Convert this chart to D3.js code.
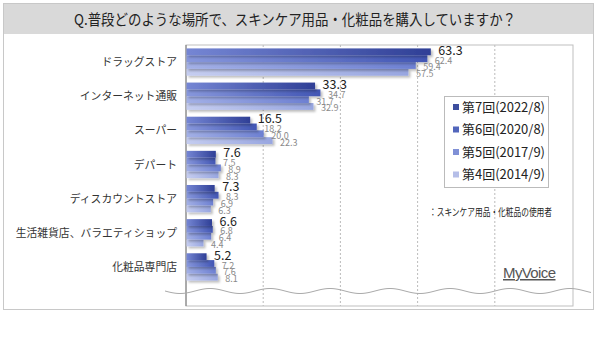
<!DOCTYPE html>
<html><head><meta charset="utf-8">
<script src="https://cdn.jsdelivr.net/npm/d3@7/dist/d3.min.js"></script>
<style>body{margin:0;background:#fff;font-family:"Noto Sans CJK JP","Noto Sans",sans-serif;}</style>
</head><body><svg id="c" width="600" height="350"></svg>
<script>
const categories = ["ドラッグストア","インターネット通販","スーパー","デパート","ディスカウントストア","生活雑貨店、バラエティショップ","化粧品専門店"];
const seriesNames = ["第7回(2022/8)","第6回(2020/8)","第5回(2017/9)","第4回(2014/9)"];
const s7 = [63.3,33.3,16.5,7.6,7.3,6.6,5.2];
const s6 = [62.4,34.7,18.2,7.5,8.3,6.8,7.2];
const s5 = [59.4,31.7,20.0,8.9,6.9,6.4,7.6];
const s4 = [57.5,32.9,22.3,8.3,6.3,4.4,8.1];
const xTicks = [0,20,40,60,80,100];
(function(){
const series = [s7,s6,s5,s4];
const colors = [["#7586d4","#2f3f96"],["#8797dc","#4256b4"],["#a3b0e6","#6d80d2"],["#c5cdf0","#98a6e0"]];
const legendColors = ["#3d4e9e","#5266bc","#8090d6","#b5bee8"];

const svg = d3.select("#c");
const defs = svg.append("defs");
colors.forEach((c,i)=>{
  const g = defs.append("linearGradient").attr("id","g"+i).attr("x1","0").attr("x2","1").attr("y1","0").attr("y2","0");
  g.append("stop").attr("offset","0").attr("stop-color",c[0]);
  g.append("stop").attr("offset","1").attr("stop-color",c[1]);
});
const f = defs.append("filter").attr("id","sh").attr("x","-5%").attr("y","-30%").attr("width","115%").attr("height","200%");
f.append("feDropShadow").attr("dx",2).attr("dy",2).attr("stdDeviation",1.2).attr("flood-color","#000").attr("flood-opacity",0.25);

svg.append("rect").attr("x",3.5).attr("y",3.5).attr("width",590).attr("height",306).attr("fill","#fff").attr("stroke","#c8c8c8");
svg.append("rect").attr("x",4).attr("y",4).attr("width",589).attr("height",30).attr("fill","#d9d9d9");
svg.append("text").attr("x",74).attr("y",25).attr("font-size",15).attr("fill","#222")
  .attr("textLength",442).attr("lengthAdjust","spacingAndGlyphs")
  .text("Q.普段どのような場所で、スキンケア用品・化粧品を購入していますか？");

const pLeft=186, pRight=572, pTop=45, pBottom=292;
const x = d3.scaleLinear().domain([0,100]).range([pLeft,pRight]);
const y = d3.scaleBand().domain(categories).range([pTop,pBottom-8]).paddingInner(0.2).paddingOuter(0.1);
const yi = d3.scaleBand().domain(d3.range(4)).range([0,y.bandwidth()]);

svg.append("g").selectAll("line").data(xTicks.slice(1,-1)).join("line")
  .attr("x1",d=>x(d)).attr("x2",d=>x(d)).attr("y1",pTop).attr("y2",306)
  .attr("stroke","#aaa").attr("stroke-dasharray","2,2").attr("stroke-width",0.8);
svg.append("rect").attr("x",pLeft).attr("y",pTop).attr("width",x(100)-pLeft+1).attr("height",306-pTop)
  .attr("fill","none").attr("stroke","#bfbfbf");
svg.append("line").attr("x1",pLeft).attr("x2",pLeft).attr("y1",pTop).attr("y2",306).attr("stroke","#777");

svg.append("g").selectAll("text").data(categories).join("text")
  .attr("x",177).attr("y",d=>y(d)+y.bandwidth()/2+4).attr("text-anchor","end")
  .attr("font-size",10.8).attr("fill","#333").text(d=>d);

for(let si=3; si>=0; si--){
  svg.append("g").attr("filter","url(#sh)").selectAll("rect").data(series[si]).join("rect")
    .attr("x",pLeft+0.5).attr("y",(d,i)=>y(categories[i])+yi(si))
    .attr("width",d=>x(d)-pLeft).attr("height",yi.bandwidth())
    .attr("fill","url(#g"+si+")");
}
for(let si=3; si>=1; si--){
  svg.append("g").selectAll("text").data(series[si]).join("text")
    .attr("x",d=>x(d)+8).attr("y",(d,i)=>y(categories[i])+yi(si)+yi.bandwidth()/2+5)
    .attr("font-size",9).attr("fill","#8a8a8a").text(d=>d.toFixed(1));
}
svg.append("g").selectAll("text").data(s7).join("text")
  .attr("x",d=>x(d)+8).attr("y",(d,i)=>y(categories[i])+yi(0)+yi.bandwidth()/2+3)
  .attr("font-size",12.5).attr("fill","#222").text(d=>d.toFixed(1));

const wave = d3.range(165,592,2).map(px=>[px, 291+2.5*Math.sin((px-165)/60*2*Math.PI)]);
svg.append("path").attr("d",d3.line()(wave)).attr("fill","none").attr("stroke","#aaa").attr("stroke-width",1);

const lg = svg.append("g");
lg.append("rect").attr("x",444.5).attr("y",96.5).attr("width",104).attr("height",91).attr("fill","#fff").attr("stroke","#bbb");
seriesNames.forEach((n,i)=>{
  lg.append("rect").attr("x",453).attr("y",104+i*22.5).attr("width",6).attr("height",6).attr("fill",legendColors[i]);
  lg.append("text").attr("x",462).attr("y",111.5+i*22.5).attr("font-size",13).attr("fill","#222")
    .attr("textLength",83).attr("lengthAdjust","spacingAndGlyphs").text(n);
});
svg.append("text").attr("x",429).attr("y",216).attr("font-size",10).attr("fill","#222")
  .attr("textLength",123).attr("lengthAdjust","spacingAndGlyphs").text("：スキンケア用品・化粧品の使用者");
svg.append("text").attr("x",503).attr("y",278).attr("font-size",15).attr("fill","#555").attr("font-family","Liberation Sans, sans-serif")
  .attr("letter-spacing","-0.6").attr("text-decoration","underline").text("MyVoice");
})();
</script></body></html>
